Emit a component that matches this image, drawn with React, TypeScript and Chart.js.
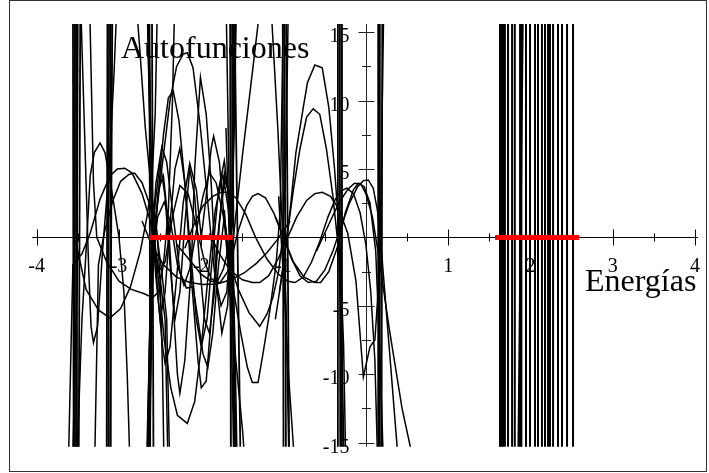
import React, { useEffect, useRef } from "react";
import { Chart, registerables } from "chart.js";
Chart.register(...registerables);

type Pt = [number, number];

// ---- axes ----
const X_MIN = -4;
const X_MAX = 4;
const Y_MIN = -15.3;
const Y_MAX = 15.6;
const xTickLabels = [-4, -3, -2, -1, 1, 2, 3, 4];
const yTickLabels = [-15, -10, -5, 5, 10, 15];
const TITLE_Y = "Autofunciones";
const TITLE_X = "Energías";

// ---- eigenvalues (red points on the energy axis) ----
const eigenLeft = [-2.6, -2.57, -2.54, -2.5, -2.46, -2.42, -2.38, -2.34, -2.3, -2.26, -2.21, -2.17, -2.12, -2.08, -2.03, -1.99, -1.94, -1.9, -1.85, -1.81, -1.77, -1.73, -1.7, -1.67, -1.65];
const eigenRight = [1.6, 1.63, 1.66, 1.7, 1.73, 1.77, 1.81, 1.85, 1.89, 1.93, 1.98, 2.02, 2.07, 2.11, 2.16, 2.2, 2.24, 2.28, 2.32, 2.36, 2.4, 2.44, 2.47, 2.5, 2.53, 2.56];

// ---- eigenfunction curves [energy, value] ----
const curveL1: Pt[] = [[-3.57, -18], [-3.5, -1], [-3.4, -3.8], [-3.25, -5.3], [-3.11, -5.9], [-2.98, -5.2], [-2.86, -3.6], [-2.74, -1.0], [-2.66, 1.5], [-2.6, 4], [-2.56, 9], [-2.53, 18]];
const curveL2: Pt[] = [[-3.62, -18], [-3.56, -2], [-3.45, -1.2], [-3.35, 0.3], [-3.23, 2.8], [-3.11, 4.5], [-3.02, 5.0], [-2.93, 5.06], [-2.84, 4.7], [-2.72, 3.2], [-2.62, 1.2], [-2.56, -0.8], [-2.5, -3], [-2.44, -6], [-2.4, -18]];
const curveL3: Pt[] = [[-3.3, -18], [-3.25, -2], [-3.18, 0.3], [-3.08, 2.6], [-2.98, 4.1], [-2.88, 4.6], [-2.81, 4.7], [-2.72, 4.0], [-2.62, 2.3], [-2.54, 0.2], [-2.48, -2.5], [-2.42, -6], [-2.38, -18]];
const curveL4: Pt[] = [[-3.47, 18], [-3.42, 8], [-3.37, -2], [-3.34, -6.5], [-3.31, -7.7], [-3.26, -6.5], [-3.2, -1], [-3.12, 5], [-3.06, 12], [-3.02, 18]];
const curveL5: Pt[] = [[-3.52, -18], [-3.45, -6], [-3.39, 0], [-3.35, 4.5], [-3.3, 6.2], [-3.23, 6.9], [-3.17, 6.2], [-3.09, 3.5], [-3.0, 0], [-2.94, -4], [-2.9, -10], [-2.86, -18]];
const curveL6: Pt[] = [[-3.36, 18], [-3.31, 4], [-3.27, 0], [-3.15, -1.8], [-3.0, -3.2], [-2.85, -3.8], [-2.7, -4.1], [-2.59, -4.4], [-2.52, -4.0], [-2.46, -2], [-2.4, 2], [-2.35, 10], [-2.32, 18]];
const curveL7: Pt[] = [[-2.8, 18], [-2.75, 14], [-2.68, 8], [-2.6, 3], [-2.54, 0.5], [-2.5, -3], [-2.47, -10], [-2.45, -18]];

const curveC1: Pt[] = [[-2.67, -18], [-2.61, -3], [-2.54, 2], [-2.46, 6], [-2.38, 10], [-2.3, 12.5], [-2.22, 13.4], [-2.17, 13.5], [-2.1, 12.4], [-2.01, 8], [-1.92, 2.5], [-1.84, -2.5], [-1.76, -5], [-1.69, -4], [-1.64, 0], [-1.6, 8], [-1.57, 18]];
const curveC2: Pt[] = [[-2.66, 18], [-2.6, 2], [-2.53, -2.5], [-2.45, -7.5], [-2.37, -11], [-2.29, -13], [-2.17, -13.6], [-2.08, -12], [-2.0, -8], [-1.92, -3], [-1.83, 2], [-1.74, 4.5], [-1.67, 3.5], [-1.62, -1], [-1.59, -8], [-1.56, -18]];
const curveC3: Pt[] = [[-2.64, -18], [-2.6, -4], [-2.54, 2], [-2.46, 7.5], [-2.4, 10.2], [-2.34, 10.7], [-2.27, 8.5], [-2.2, 4], [-2.12, -3], [-2.04, -9], [-2.0, -11], [-1.94, -10.5], [-1.88, -6], [-1.8, 0], [-1.72, 4.7], [-1.66, 3], [-1.62, -2], [-1.58, -18]];
const curveC4: Pt[] = [[-2.65, 18], [-2.6, 3], [-2.53, -4], [-2.47, -8], [-2.44, -9.2], [-2.38, -8], [-2.3, -3], [-2.22, 2.5], [-2.14, 5.4], [-2.06, 3.5], [-2.0, 0], [-1.94, 3], [-1.88, 6.5], [-1.85, 7.4], [-1.78, 5.5], [-1.71, 0.5], [-1.66, -3], [-1.61, -6], [-1.57, -18]];
const curveC5: Pt[] = [[-2.63, -18], [-2.59, -1], [-2.52, 3.5], [-2.46, 4.5], [-2.4, 1], [-2.34, -5], [-2.29, -10], [-2.26, -11.4], [-2.2, -9], [-2.12, -2], [-2.08, 5], [-2.01, 11.7], [-1.94, 9], [-1.88, 4], [-1.82, -3], [-1.75, -7], [-1.68, -5], [-1.63, 1], [-1.6, 18]];
const curveC6: Pt[] = [[-2.66, 18], [-2.6, 0.5], [-2.52, -2.5], [-2.44, -1.8], [-2.35, 1.5], [-2.26, 3.8], [-2.16, 3.2], [-2.06, 0.8], [-1.96, -1.8], [-1.88, -3.0], [-1.81, -3.3], [-1.73, -2.3], [-1.66, -0.5], [-1.62, 1], [-1.58, 18]];
const curveC7: Pt[] = [[-2.66, -18], [-2.61, -1], [-2.55, 4], [-2.48, 6.6], [-2.42, 5.5], [-2.34, 1.5], [-2.26, -2.5], [-2.18, -3.7], [-2.1, -3.6], [-2.04, -6], [-1.98, -8.5], [-1.92, -9.5], [-1.86, -7], [-1.79, -2], [-1.72, 1.5], [-1.67, -1], [-1.63, -8], [-1.6, -18]];
const curveC8: Pt[] = [[-2.65, -18], [-2.6, -2], [-2.53, 1.5], [-2.45, 2.6], [-2.37, 1], [-2.29, -2], [-2.21, -3.5], [-2.14, -2.3], [-2.06, 0.5], [-1.98, 3], [-1.9, 4.7], [-1.82, 4], [-1.74, 1.8], [-1.67, -0.5], [-1.62, -4], [-1.59, -18]];
const curveC9: Pt[] = [[-2.64, 18], [-2.6, 1], [-2.55, -3], [-2.5, -6], [-2.44, -4], [-2.38, 1], [-2.32, 5], [-2.26, 6.5], [-2.2, 4], [-2.13, -1], [-2.06, -6], [-2.0, -8], [-1.93, -6], [-1.86, -1], [-1.79, 3.5], [-1.72, 5.6], [-1.67, 3], [-1.62, -3], [-1.59, -18]];
const curveC10: Pt[] = [[-2.66, -18], [-2.61, -2], [-2.56, 2.5], [-2.5, 5.5], [-2.44, 3], [-2.38, -2], [-2.32, -6], [-2.26, -4], [-2.2, 1], [-2.14, 5], [-2.08, 3], [-2.02, -2], [-1.96, -6], [-1.9, -7], [-1.84, -4], [-1.78, 1], [-1.72, 4], [-1.67, 2], [-1.62, -4], [-1.58, -18]];

const curveR1: Pt[] = [[-2.2, -0.8], [-2.1, 0.8], [-1.98, 2.3], [-1.86, 3.0], [-1.76, 3.3], [-1.68, 3.3], [-1.58, 2.9], [-1.46, 1.7], [-1.34, 0], [-1.2, -1.6], [-1.06, -2.7], [-0.95, -3.2], [-0.86, -3.3], [-0.76, -2.9], [-0.66, -1.8], [-0.56, -0.3], [-0.46, 1.5], [-0.37, 2.8], [-0.3, 3.4], [-0.23, 3.6], [-0.15, 3.2], [-0.07, 1.8], [0.0, -0.5], [0.06, -4], [0.11, -9], [0.15, -18]];
const curveR2: Pt[] = [[-2.3, -0.5], [-2.15, -1.6], [-2.0, -2.7], [-1.88, -3.2], [-1.77, -3.3], [-1.68, -2.5], [-1.62, -1.2], [-1.55, 0.5], [-1.45, 2.3], [-1.38, 3.0], [-1.31, 3.2], [-1.22, 2.9], [-1.12, 1.8], [-1.0, 0], [-0.88, -1.8], [-0.75, -2.9], [-0.62, -3.3], [-0.55, -3.3], [-0.45, -2.5], [-0.35, -0.8], [-0.25, 1.8], [-0.15, 3.5], [-0.09, 3.96], [-0.02, 3.7], [0.05, 2.5], [0.12, -1], [0.18, -10], [0.22, -18]];
const curveR3: Pt[] = [[-1.9, 0.3], [-1.78, -1.2], [-1.65, -2.4], [-1.5, -3.1], [-1.38, -3.3], [-1.29, -3.3], [-1.18, -2.8], [-1.06, -1.5], [-0.95, 0], [-0.84, 1.5], [-0.72, 2.7], [-0.62, 3.2], [-0.53, 3.3], [-0.43, 3.0], [-0.33, 2.1], [-0.22, 0.3], [-0.12, -3.2], [-0.03, -10.2], [0.05, -8], [0.11, -7.5], [0.17, -2], [0.2, 10], [0.22, 18]];
const curveR4: Pt[] = [[-1.1, 1.5], [-1.0, 0], [-0.9, -1.6], [-0.8, -2.8], [-0.7, -3.3], [-0.6, -3.2], [-0.5, -2.4], [-0.4, -1], [-0.3, 0.8], [-0.2, 2.5], [-0.1, 3.7], [-0.03, 4.15], [0.03, 4.2], [0.09, 3.6], [0.14, 2.0], [0.19, -1], [0.27, -7], [0.38, -15.3], [0.42, -18]];
const curveR5: Pt[] = [[-0.6, -1], [-0.5, 0.3], [-0.4, 1.6], [-0.32, 2.6], [-0.22, 3.5], [-0.14, 3.96], [-0.06, 3.9], [0.0, 3.2], [0.08, 1.5], [0.16, -1.5], [0.28, -6.5], [0.44, -12.5], [0.54, -15.3], [0.58, -17]];
const curveR7: Pt[] = [[-1.1, -6], [-1.0, -2], [-0.92, 2], [-0.85, 6.2], [-0.76, 9.5], [-0.71, 11.3], [-0.62, 12.6], [-0.53, 12.4], [-0.45, 9.5], [-0.38, 5], [-0.32, 0], [-0.27, -8], [-0.24, -18]];
const curveR8: Pt[] = [[-1.05, -4], [-0.96, 0], [-0.88, 3.5], [-0.8, 6.5], [-0.72, 8.8], [-0.64, 9.4], [-0.56, 9.0], [-0.48, 6.5], [-0.4, 3], [-0.33, -1], [-0.29, -8], [-0.26, -18]];
const curveR9: Pt[] = [[-1.66, -4], [-1.61, 0], [-1.5, 6], [-1.4, 11], [-1.31, 15.6], [-1.22, 19], [-1.14, 15.6], [-1.07, 8], [-1.01, 0], [-0.97, -5], [-0.93, -18]];
const curveR10: Pt[] = [[-1.7, 8], [-1.65, -1.9], [-1.55, -3.8], [-1.42, -5.5], [-1.29, -6.5], [-1.2, -5.6], [-1.13, -4.4], [-1.06, -2.5], [-1.01, 0], [-0.97, 6], [-0.94, 18]];
const curveR11: Pt[] = [[-1.7, 18], [-1.66, 3], [-1.61, -3.8], [-1.52, -7], [-1.44, -9.5], [-1.38, -10.6], [-1.31, -10.6], [-1.25, -8.5], [-1.17, -5.5], [-1.09, -1.9], [-1.04, 2], [-1.0, 18]];
const curveR12: Pt[] = [[-1.72, 2], [-1.66, -3], [-1.58, -9], [-1.5, -14], [-1.45, -18]];
const curveR13: Pt[] = [[-1.06, 3], [-1.0, -3], [-0.94, -10], [-0.88, -15.3], [-0.86, -18]];
const curveR14: Pt[] = [[-2.72, 1.2], [-2.6, -0.6], [-2.46, -2.0], [-2.3, -2.9], [-2.14, -3.3], [-1.98, -3.45], [-1.81, -3.4], [-1.64, -3.1], [-1.48, -2.6], [-1.33, -1.9], [-1.2, -1.1], [-1.08, -0.2], [-0.98, 0.7], [-0.92, 1.2]];

const curves: Pt[][] = [
  curveL1, curveL2, curveL3, curveL4, curveL5, curveL6, curveL7,
  curveC1, curveC2, curveC3, curveC4, curveC5, curveC6, curveC7, curveC8, curveC9, curveC10,
  curveR1, curveR2, curveR3, curveR4, curveR5, curveR7, curveR8, curveR9,
  curveR10, curveR11, curveR12, curveR13, curveR14,
];

// divergent (nearly vertical) curves: [energy at top, energy at bottom]
const STEEP_HIGH = 18;
const STEEP_LOW = -18;
const steepLeft: Pt[] = [
  [-3.56, -3.55], [-3.54, -3.535], [-3.52, -3.51], [-3.5, -3.52], [-3.47, -3.49],
  [-3.14, -3.15], [-3.12, -3.13], [-3.1, -3.1], [-3.08, -3.11],
  [-2.63, -2.62], [-2.6, -2.58],
  [-1.65, -1.64], [-1.62, -1.6], [-1.6, -1.52],
  [-1.01, -1.0], [-0.99, -0.97], [-0.97, -0.93],
  [-0.34, -0.34], [-0.32, -0.31], [-0.3, -0.29],
  [0.15, 0.15], [0.17, 0.17], [0.2, 0.19],
];
const steepRight: Pt[] = [
  [1.63, 1.63], [1.645, 1.645], [1.667, 1.667], [1.69, 1.69], [1.728, 1.728],
  [1.777, 1.777], [1.81, 1.81], [1.874, 1.874], [1.89, 1.89], [1.91, 1.85],
  [1.946, 1.946], [1.995, 1.995], [2.056, 2.056], [2.092, 2.092], [2.14, 2.14],
  [2.177, 2.177], [2.214, 2.214], [2.238, 2.238], [2.275, 2.275], [2.335, 2.335],
  [2.384, 2.384], [2.445, 2.445], [2.518, 2.518],
];

const SERIF = '"Liberation Serif", "Times New Roman", Times, serif';

const decorPlugin = {
  id: "decor",
  beforeDatasetsDraw(chart: any) {
    const ctx: CanvasRenderingContext2D = chart.ctx;
    const xs = chart.scales.x;
    const ys = chart.scales.y;
    const area = chart.chartArea;
    const x0 = Math.round(xs.getPixelForValue(0)) + 0.5;
    const y0 = Math.round(ys.getPixelForValue(0)) + 0.5;
    ctx.save();
    // frame
    ctx.strokeStyle = "#333";
    ctx.lineWidth = 1;
    ctx.strokeRect(9.5, 0.5, 697, 471);
    // axes
    ctx.strokeStyle = "#000";
    ctx.beginPath();
    ctx.moveTo(area.left - 4.5, y0);
    ctx.lineTo(area.right + 3, y0);
    ctx.stroke();
    ctx.strokeStyle = "#222";
    ctx.beginPath();
    ctx.moveTo(x0, area.top);
    ctx.lineTo(x0, area.bottom);
    ctx.stroke();
    // x ticks
    ctx.strokeStyle = "#000";
    ctx.beginPath();
    for (let v = X_MIN; v <= X_MAX + 1e-9; v += 0.5) {
      if (Math.abs(v) < 1e-9) continue;
      const px = Math.round(xs.getPixelForValue(v)) + 0.5;
      const len = Math.abs(v - Math.round(v)) < 1e-9 ? 8 : 4;
      ctx.moveTo(px, y0 - len);
      ctx.lineTo(px, y0 + len);
    }
    ctx.stroke();
    // y ticks
    ctx.strokeStyle = "#222";
    ctx.beginPath();
    for (let v = -15; v <= 15 + 1e-9; v += 2.5) {
      if (Math.abs(v) < 1e-9) continue;
      const py = Math.round(ys.getPixelForValue(v)) + 0.5;
      const len = Math.abs(v / 5 - Math.round(v / 5)) < 1e-9 ? 8 : 4.5;
      ctx.moveTo(x0 - len, py);
      ctx.lineTo(x0 + len, py);
    }
    ctx.stroke();
    // tick labels
    ctx.fillStyle = "#000";
    ctx.font = `20px ${SERIF}`;
    ctx.textBaseline = "alphabetic";
    ctx.textAlign = "center";
    for (const v of xTickLabels) {
      ctx.fillText(String(v), xs.getPixelForValue(v), y0 + 34);
    }
    ctx.textAlign = "right";
    for (const v of yTickLabels) {
      ctx.fillText(String(v), x0 - 17, ys.getPixelForValue(v) + 10);
    }
    // titles
    ctx.font = `32px ${SERIF}`;
    ctx.textAlign = "left";
    ctx.fillText(TITLE_Y, 121, 58);
    ctx.fillText(TITLE_X, 585, 291);
    ctx.restore();
  },
};

export default function App() {
  const ref = useRef<HTMLCanvasElement | null>(null);
  useEffect(() => {
    if (!ref.current) return;
    const lineDs = (data: Pt[], width: number) => ({
      data,
      borderColor: "#000",
      borderWidth: width,
      pointRadius: 0,
      tension: 0,
      fill: false,
      order: 2,
    });
    const datasets: any[] = [
      {
        data: [...eigenLeft, ...eigenRight].map((e) => [e, 0]),
        showLine: false,
        pointRadius: 3.5,
        pointStyle: "rect",
        pointBackgroundColor: "#ff0000",
        pointBorderWidth: 0,
        borderColor: "#ff0000",
        order: 0,
      },
      ...curves.map((c) => lineDs(c, 1.5)),
      ...steepLeft.map(([t, b]) => lineDs([[t, STEEP_HIGH], [b, STEEP_LOW]], 1.8)),
      ...steepRight.map(([t, b]) => lineDs([[t, STEEP_HIGH], [b, STEEP_LOW]], 2)),
    ];
    const chart = new Chart(ref.current, {
      type: "line",
      data: { datasets },
      options: {
        animation: false,
        responsive: false,
        maintainAspectRatio: false,
        devicePixelRatio: 1,
        events: [],
        layout: { padding: { left: 36.7, right: 14, top: 24, bottom: 26.3 } },
        scales: {
          x: { type: "linear", min: X_MIN, max: X_MAX, display: false },
          y: { type: "linear", min: Y_MIN, max: Y_MAX, display: false },
        },
        plugins: { legend: { display: false }, tooltip: { enabled: false } },
      },
      plugins: [decorPlugin],
    });
    return () => chart.destroy();
  }, []);
  return (
    <div style={{ position: "absolute", left: 0, top: 0, width: 709, height: 473, background: "#fff" }}>
      <canvas ref={ref} width={709} height={473} style={{ display: "block" }} />
    </div>
  );
}
